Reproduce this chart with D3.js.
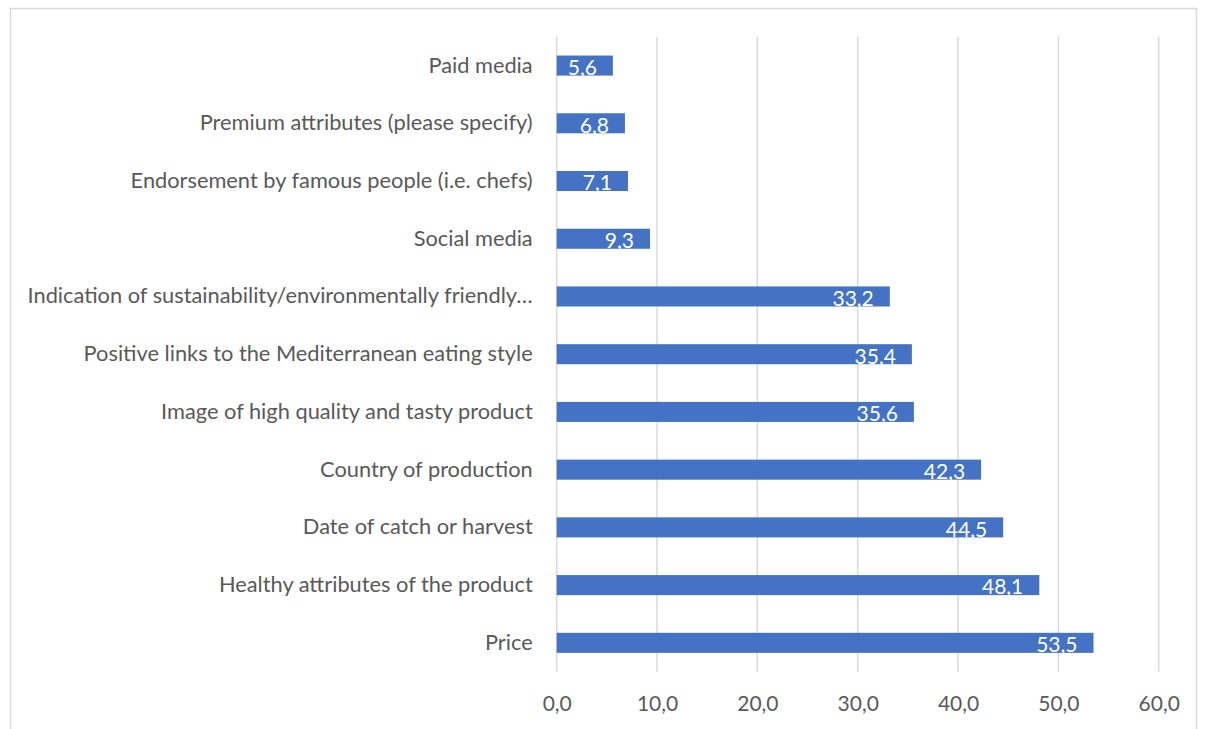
<!DOCTYPE html>
<html>
<head>
<meta charset="utf-8">
<script src="https://cdn.jsdelivr.net/npm/d3@7"></script>
<style>
  html, body { margin: 0; padding: 0; background: #fff; }
  svg { display: block; }
</style>
</head>
<body>
<svg id="chart" width="1206" height="729"></svg>
<script>
// Categories listed from top to bottom
const categories = [
  "Paid media",
  "Premium attributes (please specify)",
  "Endorsement by famous people (i.e. chefs)",
  "Social media",
  "Indication of sustainability/environmentally friendly…",
  "Positive links to the Mediterranean eating style",
  "Image of high quality and tasty product",
  "Country of production",
  "Date of catch or harvest",
  "Healthy attributes of the product",
  "Price"
];
const values = [5.6, 6.8, 7.1, 9.3, 33.2, 35.4, 35.6, 42.3, 44.5, 48.1, 53.5];
const tickValues = [0, 10, 20, 30, 40, 50, 60];

const fmt = v => d3.format(".1f")(v).replace(".", ",");
const FONT = "Lato, 'Open Sans', sans-serif";

const svg = d3.select("#chart");

// Chart frame
svg.append("rect")
  .attr("x", 10.5).attr("y", 8.5)
  .attr("width", 1186).attr("height", 730)
  .attr("fill", "#fff")
  .attr("stroke", "#d9d9d9").attr("stroke-width", 1.5);

const plot = { left: 556.7, right: 1158.7, top: 36.7, bottom: 671.7 };

const x = d3.scaleLinear().domain([0, 60]).range([plot.left, plot.right]);
const y = d3.scaleBand().domain(categories).range([plot.top, plot.bottom])
  .paddingInner(0.653).paddingOuter(0.3265);

// Vertical gridlines
svg.append("g").selectAll("line").data(tickValues).join("line")
  .attr("x1", d => x(d)).attr("x2", d => x(d))
  .attr("y1", plot.top).attr("y2", plot.bottom)
  .attr("stroke", "#d9d9d9").attr("stroke-width", 1.5);

// Bottom axis tick labels
const xAxis = d3.axisBottom(x).tickValues(tickValues).tickFormat(fmt).tickSize(0).tickPadding(0);
const gx = svg.append("g").attr("transform", `translate(0,${plot.bottom + 33})`).call(xAxis);
gx.select(".domain").remove();
gx.selectAll("text")
  .attr("font-family", FONT).attr("font-size", 21).attr("fill", "#595959")
  .attr("dy", "0.32em");

// Category labels
const yAxis = d3.axisLeft(y).tickSize(0).tickPadding(0);
const gy = svg.append("g").attr("transform", `translate(${plot.left - 24},0)`).call(yAxis);
gy.select(".domain").remove();
gy.selectAll("text")
  .attr("font-family", FONT).attr("font-size", 21.8).attr("fill", "#595959")
  .attr("dy", "0.32em");

// Bars
svg.append("g").selectAll("rect").data(values).join("rect")
  .attr("x", x(0))
  .attr("y", (d, i) => y(categories[i]))
  .attr("width", d => x(d) - x(0))
  .attr("height", y.bandwidth())
  .attr("fill", "#4472c4");

// Value labels inside bar ends
svg.append("g").selectAll("text").data(values).join("text")
  .attr("x", d => x(d) - 16)
  .attr("y", (d, i) => y(categories[i]) + y.bandwidth() / 2 + 2)
  .attr("dy", "0.35em")
  .attr("text-anchor", "end")
  .attr("font-family", FONT).attr("font-size", 21).attr("fill", "#fff")
  .text(fmt);
</script>
</body>
</html>
